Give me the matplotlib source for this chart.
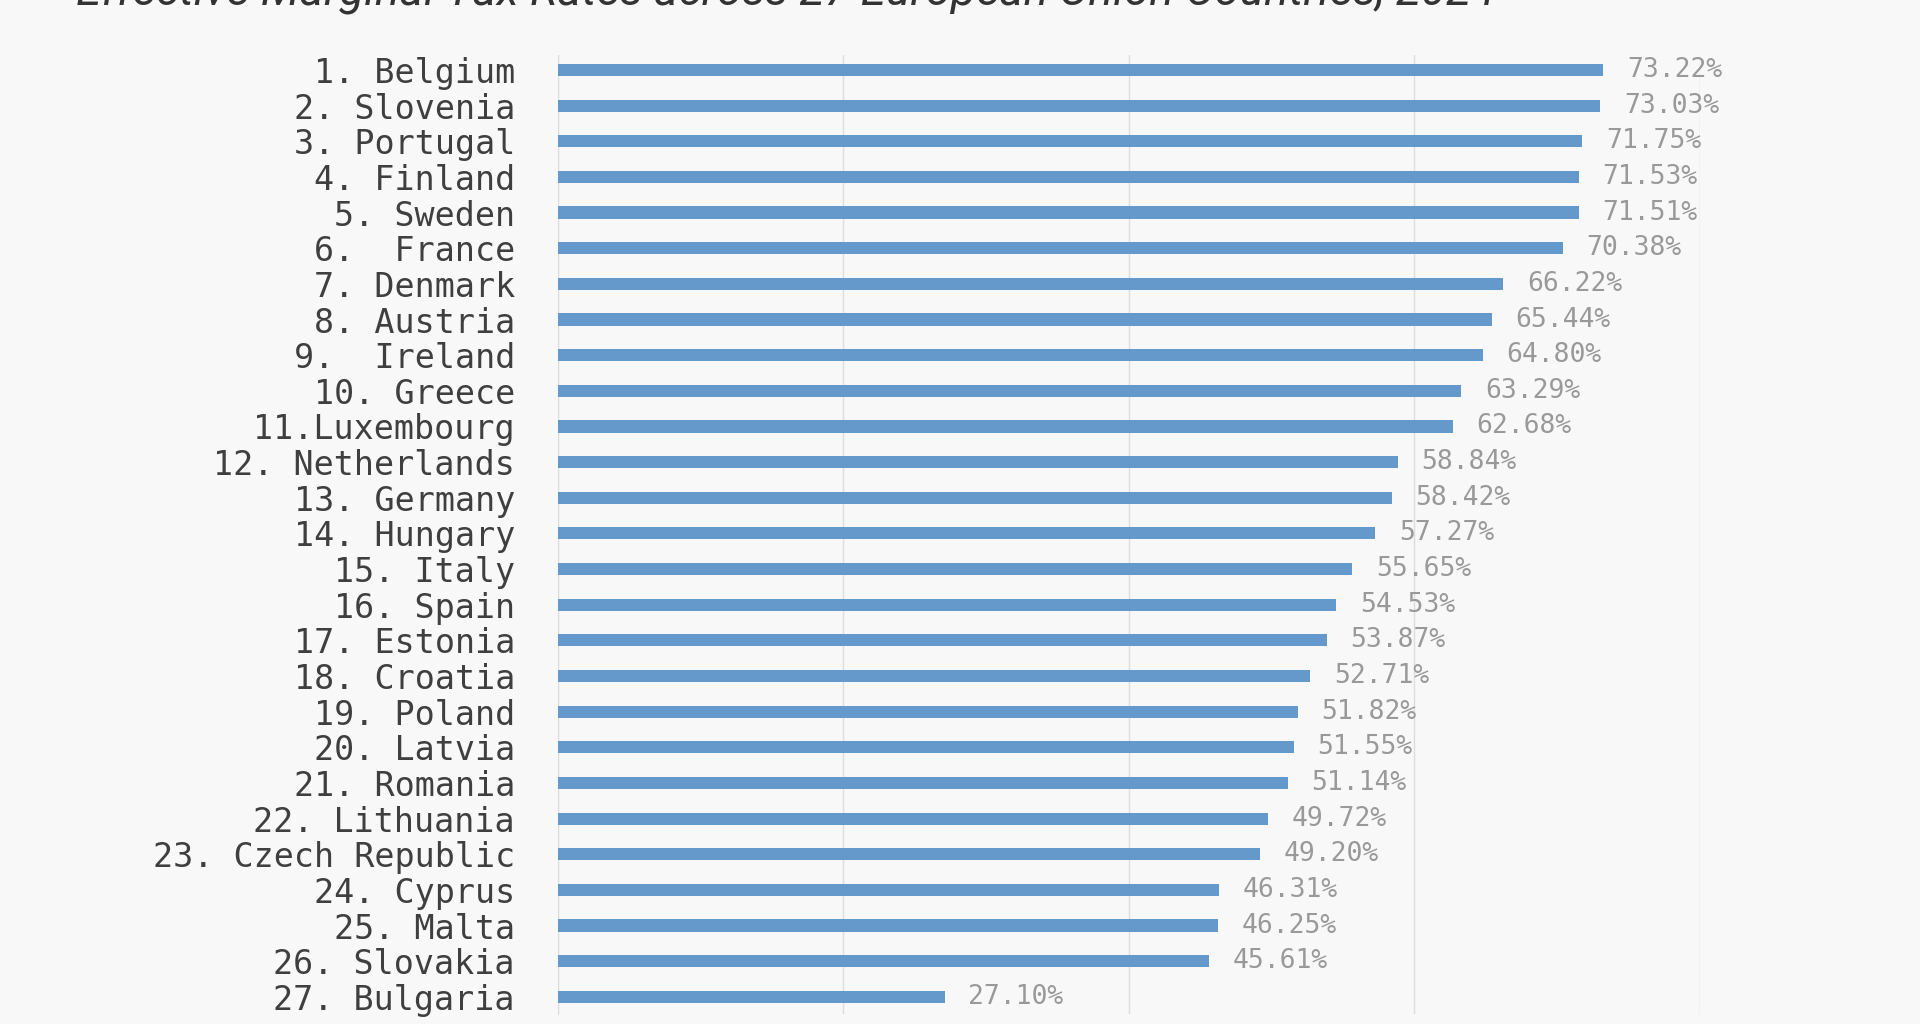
import matplotlib.pyplot as plt

# data
countries = ['1. Belgium', '2. Slovenia', '3. Portugal', '4. Finland', '5. Sweden',
             '6.  France', '7. Denmark', '8. Austria', '9.  Ireland', '10. Greece',
             '11.Luxembourg', '12. Netherlands', '13. Germany', '14. Hungary',
             '15. Italy', '16. Spain', '17. Estonia', '18. Croatia', '19. Poland',
             '20. Latvia', '21. Romania', '22. Lithuania', '23. Czech Republic',
             '24. Cyprus', '25. Malta', '26. Slovakia', '27. Bulgaria']
rates = [73.22, 73.03, 71.75, 71.53, 71.51, 70.38, 66.22, 65.44, 64.80, 63.29,
         62.68, 58.84, 58.42, 57.27, 55.65, 54.53, 53.87, 52.71, 51.82, 51.55,
         51.14, 49.72, 49.20, 46.31, 46.25, 45.61, 27.10]
grid_ticks = [0, 20, 40, 60, 80]
title = 'Effective Marginal Tax Rates across 27 European Union Countries, 2024'

bg = '#f8f8f8'
bar_col = '#6598cb'

fig = plt.figure(figsize=(19.2, 10.24), dpi=100, facecolor=bg)
ax = fig.add_axes([0.2906, 0.0098, 0.5948, 0.9365])
ax.set_facecolor(bg)

ypos = list(range(len(countries)))
ax.barh(ypos, rates, height=0.34, color=bar_col, zorder=3)

for y, v in zip(ypos, rates):
    ax.annotate('%.2f%%' % v, (v, y), xytext=(17, 0), textcoords='offset points',
                va='center', ha='left', fontsize=19, color='#999999',
                family='DejaVu Sans Mono')

ax.set_xlim(0, 80)
ax.set_ylim(26.48, -0.42)
ax.set_xticks(grid_ticks)
ax.xaxis.grid(True, color='#dddddd', linewidth=1, zorder=0)
ax.tick_params(axis='x', length=0, labelbottom=False)
ax.set_yticks(ypos)
ax.set_yticklabels(countries, fontsize=24, color='#3f3f3f', family='DejaVu Sans Mono')
ax.tick_params(axis='y', length=0, pad=31)
for s in ['top', 'right', 'bottom']:
    ax.spines[s].set_visible(False)
ax.spines['left'].set_color('#dddddd')

# title sits partly above the top edge, as in the source screenshot
fig.text(76 / 1920, 1 - 4 / 1024, title, fontsize=33, style='italic',
         color='#333333', family='Roboto', va='baseline', ha='left')

fig.savefig('out.png', dpi=100, facecolor=bg)
